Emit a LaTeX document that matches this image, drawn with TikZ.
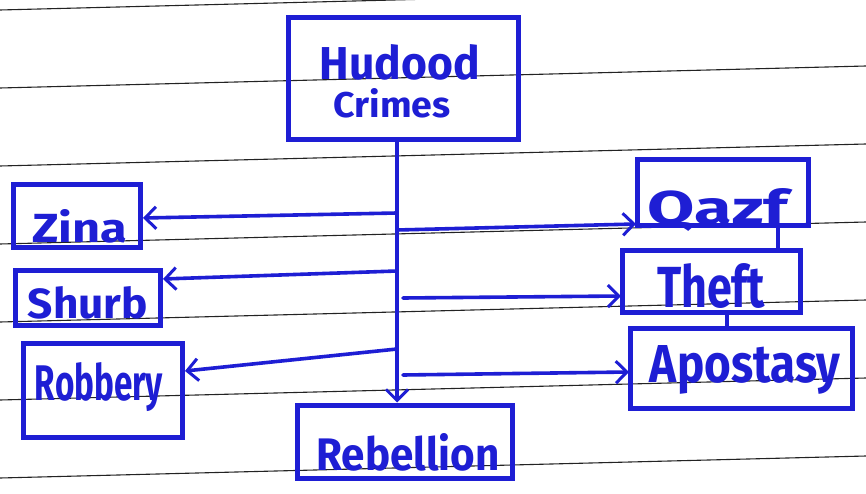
\documentclass[tikz,border=0pt]{standalone}
\usepackage{fontspec}
\setmainfont{Fira Sans}
\usepackage{graphicx}
\usetikzlibrary{arrows.meta}
\definecolor{ink}{RGB}{30,30,212}
\definecolor{rule}{RGB}{35,35,35}
\newcommand{\hw}[3]{\resizebox{#1pt}{#2pt}{\bfseries #3}}
\begin{document}
\begin{tikzpicture}[x=1pt,y=-1pt,
  box/.style={draw=ink,line width=5pt,minimum width=#1,inner sep=0pt},
  word/.style={text=ink,inner sep=0pt,anchor=base},
  link/.style={draw=ink,line width=3.6pt,line cap=round},
  arr/.style={link,-{Straight Barb[length=11pt,width=22pt,line width=3pt]}},
  paperline/.style={draw=rule,line width=1.1pt}]
\useasboundingbox (0,0) rectangle (866,494);
\fill[white] (0,0) rectangle (866,494);
% ruled paper
\foreach \y in {10,88,166,244,322,400,478}
  \draw[paperline] (0,\y) -- (866,\y-22);
% boxes
\node[box=230pt,minimum height=122pt] (hud) at (403,79) {};
\node[box=127pt,minimum height=62pt] (zina) at (76.5,216) {};
\node[box=145pt,minimum height=55pt] (shurb) at (87.5,297.5) {};
\node[box=159pt,minimum height=94pt] (rob) at (102.5,390) {};
\node[box=171pt,minimum height=65pt] (qazf) at (722.5,192.5) {};
\node[box=178pt,minimum height=62pt] (theft) at (711,281) {};
\node[box=222pt,minimum height=80pt] (apo) at (741,368) {};
\node[box=215pt,minimum height=73pt] (reb) at (404.5,441.5) {};
% words
\node[word] (hudT) at (400,80) {\hw{160}{35}{Hudood}};
\node[word] (criT) at (392,118) {\hw{117}{29}{Crimes}};
\node[word] (zinaT) at (80,242) {\hw{95}{33}{Zina}};
\node[word] (shurbT) at (88,318) {\hw{120}{32}{Shurb}};
\node[word] (robT) at (99,400) {\hw{128}{38}{Robbery}};
\node[word] (qazfT) at (718,225) {\hw{140}{36}{Qazf}};
\node[word] (theftT) at (711,307) {\hw{108}{44}{Theft}};
\node[word] (apoT) at (745,382) {\hw{190}{37}{Apostasy}};
\node[word] (rebT) at (408,470) {\hw{183}{37}{Rebellion}};
% trunk
\coordinate (top) at (hud.south -| 397,0);
\draw[arr] (top) -- (reb.north -| top);
% branch points
\coordinate (bz) at (397,213);
\coordinate (bs) at (397,271);
\coordinate (br) at (397,349);
\coordinate (bq) at (397,230);
\coordinate (bt) at (403,298);
\coordinate (ba) at (403,375);
\coordinate (ez) at (143,218);
\coordinate (es) at (163,279);
\coordinate (er) at (185,371);
\coordinate (eq) at (636,224);
\coordinate (et) at (621,296);
\coordinate (ea) at (629,372);
\draw[arr] (bz) -- (ez);
\draw[arr] (bs) -- (es);
\draw[arr] (br) -- (er);
\draw[arr] (bq) -- (eq);
\draw[arr] (bt) -- (et);
\draw[arr] (ba) -- (ea);
% strokes joining the right boxes
\draw[link] (qazf.south -| 778,0) -- (theft.north -| 778,0);
\draw[link] (theft.south -| 727,0) -- (apo.north -| 727,0);
\end{tikzpicture}
\end{document}
